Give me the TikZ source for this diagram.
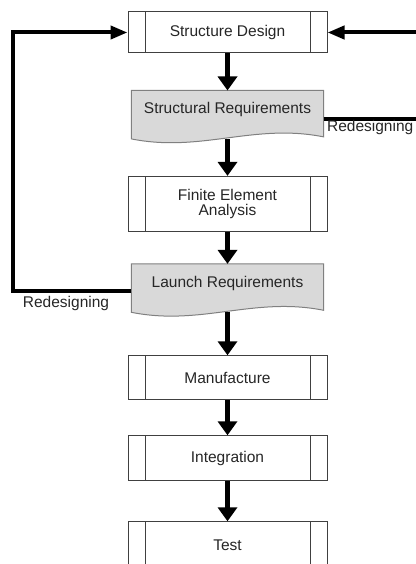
\documentclass[tikz,border=0pt]{standalone}
\usepackage{fontspec}
\setmainfont{Liberation Sans}
\usepackage{xcolor}
\usetikzlibrary{arrows.meta,positioning,calc}

\definecolor{docfill}{HTML}{D9D9D9}
\definecolor{docedge}{HTML}{808080}

% document symbol drawn round a named node
\newcommand{\docshape}[1]{%
  \draw[docline] (#1.north west) -- (#1.north east) -- ([yshift=-8pt]#1.south east)
    .. controls +(-70pt,14pt) and +(70pt,-14pt) .. ([yshift=-10pt]#1.south west) -- cycle;}

\begin{document}
\begin{tikzpicture}[
    x=1pt, y=-1pt,
    font=\fontsize{15.5}{15}\selectfont,
    proc/.style={rectangle, draw=black!75, line width=1pt, fill=white, align=center, minimum width=199pt, minimum height=42pt, text=black!85,
      path picture={
        \draw[black!75, line width=1pt] ([xshift=17pt]path picture bounding box.north west) -- ([xshift=17pt]path picture bounding box.south west);
        \draw[black!75, line width=1pt] ([xshift=-17pt]path picture bounding box.north east) -- ([xshift=-17pt]path picture bounding box.south east);}},
    doc/.style={rectangle, align=center, minimum width=192pt, minimum height=38pt, text=black!85},
    docline/.style={draw=docedge, fill=docfill, line width=1pt},
    arr/.style={-{Triangle[width=19pt,length=14pt]}, line width=4.5pt},
    back/.style={-{Triangle[width=13pt,length=17pt]}, line width=4pt},
    lbl/.style={text=black!85, inner sep=1pt}
]
    \useasboundingbox (0,0) rectangle (415,564);

    \node [proc, minimum height=41pt] (sd) at (227.5,32.5) {Structure Design};
    \node [doc, below=37pt of sd] (sr) {};
    \docshape{sr}
    \node [doc] at (sr) {Structural Requirements};
    \node [proc, minimum height=55pt, below=47pt of sr] (fea) {Finite Element\\Analysis};
    \node [doc, below=32pt of fea] (lr) {};
    \docshape{lr}
    \node [doc] at (lr) {Launch Requirements};
    \node [proc, minimum height=44pt, below=53pt of lr] (man) {Manufacture};
    \node [proc, minimum height=45pt, below=35pt of man] (integ) {Integration};
    \node [proc, minimum height=46pt, below=40pt of integ] (test) {Test};

    \draw [arr] (sd) -- (sr);
    \draw [arr] ([yshift=-10pt]sr.south) -- (fea);
    \draw [arr] (fea) -- (lr);
    \draw [arr] ([yshift=-10pt]lr.south) -- (man);
    \draw [arr] (man) -- (integ);
    \draw [arr] (integ) -- (test);

    % redesign loops
    \draw [back] ([yshift=-8pt]lr.west) -- ++(-118,0) |- (sd.west);
    \draw [back] ([yshift=-9pt]sr.east) -- ++(96,0) |- (sd.east);
    \node [lbl] (redl) at (66,303) {Redesigning};
    \node [lbl, anchor=east] (redr) at (414.5,127) {Redesigning};
\end{tikzpicture}
\end{document}
